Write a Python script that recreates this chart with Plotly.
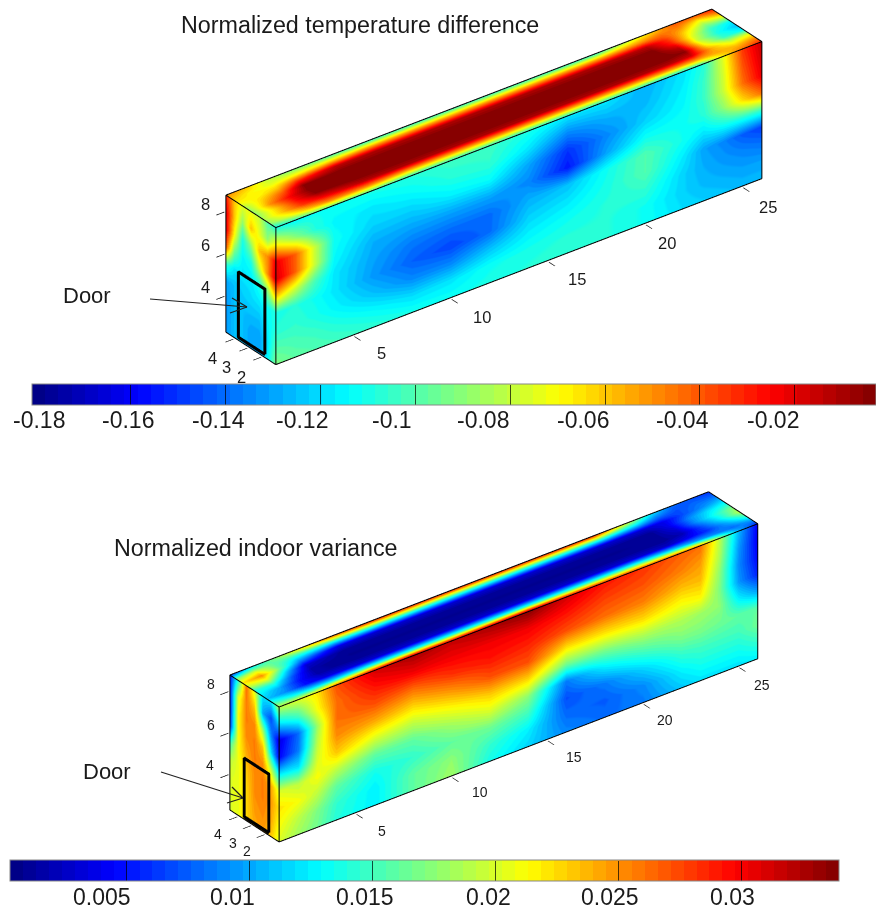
import plotly.graph_objects as go

# ---------- shared axes of the room ----------
x_cols = [1, 2, 3, 4, 6, 8, 10, 12, 14, 16, 18, 20, 22, 23, 24, 25, 26]
z_rows = [8.8, 7.99, 7.18, 6.36, 5.55, 4.74, 3.93, 3.11, 2.3]
y_rows = [1, 1.45, 1.9, 2.35, 2.8, 3.25, 3.7, 4.15, 4.6]
y_end = [1, 1.6, 2.2, 2.8, 3.4, 4.0, 4.6]
x_ticks = [5, 10, 15, 20, 25]
y_ticks = [2, 3, 4]
z_ticks = [4, 6, 8]
tick_labels = ["5", "10", "15", "20", "25", "8", "6", "4", "4", "3", "2"]
pad = 0.05

# ---------- temperature difference ----------
temp_door_y = [1.72, 3.63]
temp_door_z = [2.5, 5.6]
temp_front = [
 [-.110,-.115,-.112,-.112,-.110,-.108,-.104,-.104,-.110,-.118,-.118,-.128,-.118,-.108,-.075,-.035,-.015],
 [-.070,-.090,-.108,-.115,-.118,-.114,-.108,-.106,-.118,-.135,-.128,-.126,-.116,-.105,-.078,-.040,-.018],
 [-.022,-.042,-.080,-.112,-.122,-.122,-.116,-.114,-.130,-.150,-.135,-.122,-.114,-.105,-.080,-.045,-.022],
 [-.018,-.042,-.080,-.114,-.128,-.130,-.130,-.130,-.135,-.155,-.130,-.112,-.112,-.108,-.090,-.065,-.045],
 [-.060,-.080,-.102,-.118,-.130,-.138,-.140,-.140,-.128,-.125,-.112,-.100,-.112,-.118,-.112,-.108,-.105],
 [-.110,-.108,-.112,-.118,-.132,-.142,-.147,-.140,-.122,-.118,-.110,-.100,-.118,-.130,-.135,-.143,-.148],
 [-.108,-.106,-.110,-.115,-.125,-.135,-.135,-.125,-.116,-.112,-.108,-.106,-.122,-.128,-.132,-.135,-.138],
 [-.100,-.102,-.104,-.108,-.114,-.120,-.118,-.112,-.110,-.108,-.108,-.112,-.122,-.126,-.128,-.130,-.130],
 [-.092,-.098,-.100,-.102,-.106,-.110,-.112,-.110,-.108,-.106,-.108,-.112,-.120,-.122,-.124,-.126,-.126],
]
temp_top = [
 [-.112,-.105,-.098,-.098,-.100,-.108,-.108,-.108,-.110,-.110,-.110,-.110,-.115,-.105,-.070,-.045,-.030],
 [-.090,-.075,-.060,-.050,-.050,-.058,-.058,-.058,-.058,-.058,-.058,-.058,-.055,-.055,-.055,-.060,-.050],
 [-.085,-.060,-.035,-.025,-.014,-.012,-.012,-.012,-.012,-.012,-.012,-.012,-.013,-.018,-.055,-.080,-.075],
 [-.090,-.060,-.028,-.006,-.003,-.003,-.003,-.003,-.003,-.003,-.003,-.003,-.003,-.006,-.070,-.105,-.115],
 [-.090,-.050,-.025,-.003,-.003,-.003,-.003,-.003,-.003,-.003,-.003,-.003,-.003,-.015,-.080,-.110,-.125],
 [-.085,-.060,-.040,-.006,-.004,-.004,-.004,-.004,-.004,-.004,-.004,-.004,-.004,-.030,-.075,-.105,-.115],
 [-.070,-.070,-.060,-.035,-.014,-.012,-.012,-.012,-.012,-.012,-.012,-.012,-.014,-.035,-.065,-.090,-.080],
 [-.060,-.070,-.075,-.070,-.060,-.055,-.055,-.055,-.055,-.055,-.055,-.055,-.050,-.045,-.050,-.070,-.050],
 [-.050,-.060,-.080,-.090,-.100,-.105,-.105,-.105,-.105,-.105,-.105,-.105,-.075,-.060,-.040,-.040,-.030],
]
temp_end = [
 [-.110,-.100,-.080,-.075,-.075,-.060,-.030],
 [-.070,-.090,-.075,-.060,-.090,-.060,-.020],
 [-.022,-.050,-.060,-.090,-.110,-.070,-.020],
 [-.018,-.050,-.080,-.110,-.115,-.095,-.040],
 [-.060,-.090,-.110,-.118,-.118,-.118,-.105],
 [-.110,-.112,-.118,-.120,-.122,-.125,-.130],
 [-.108,-.115,-.125,-.125,-.125,-.125,-.132],
 [-.100,-.118,-.130,-.130,-.125,-.125,-.132],
 [-.092,-.115,-.130,-.130,-.125,-.125,-.132],
]
temp_range = [-0.1808, -0.0029]
temp_bar_ticks = [-.16, -.14, -.12, -.10, -.08, -.06, -.04, -.02]
temp_labels = ["-0.18", "-0.16", "-0.14", "-0.12", "-0.1", "-0.08", "-0.06", "-0.04", "-0.02"]
temp_label_px = [39, 128, 218, 302, 392, 483, 583, 682, 773]
temp_tick_px = [(381, 353), (482, 317), (577, 279), (667, 243), (768, 207),
                (205, 204), (205, 245), (205, 287), (212, 358), (226, 367), (241, 377)]

# ---------- indoor variance ----------
var_door_y = [1.68, 3.48]
var_door_z = [2.48, 5.3]
var_front = [
 [.0190,.0200,.0220,.0270,.0310,.0325,.0315,.0325,.0335,.0310,.0290,.0280,.0265,.0260,.0190,.0105,.0040],
 [.0120,.0150,.0210,.0260,.0290,.0300,.0300,.0300,.0300,.0290,.0275,.0270,.0255,.0245,.0185,.0095,.0040],
 [.0035,.0080,.0180,.0260,.0270,.0260,.0280,.0290,.0285,.0270,.0260,.0255,.0235,.0235,.0175,.0090,.0045],
 [.0045,.0085,.0190,.0250,.0240,.0225,.0245,.0270,.0270,.0220,.0220,.0225,.0210,.0215,.0170,.0095,.0055],
 [.0125,.0120,.0200,.0230,.0200,.0190,.0210,.0230,.0225,.0165,.0170,.0185,.0185,.0180,.0175,.0125,.0100],
 [.0200,.0190,.0210,.0190,.0160,.0160,.0180,.0200,.0175,.0085,.0125,.0150,.0170,.0170,.0165,.0160,.0160],
 [.0220,.0210,.0190,.0160,.0135,.0145,.0160,.0165,.0150,.0070,.0085,.0115,.0145,.0150,.0150,.0150,.0165],
 [.0210,.0190,.0170,.0145,.0125,.0160,.0175,.0145,.0125,.0080,.0075,.0090,.0125,.0135,.0135,.0135,.0145],
 [.0200,.0180,.0165,.0140,.0125,.0160,.0180,.0135,.0115,.0090,.0080,.0085,.0110,.0120,.0120,.0120,.0125],
]
var_top = [
 [.0190,.0200,.0220,.0270,.0310,.0325,.0315,.0325,.0335,.0310,.0290,.0280,.0270,.0260,.0190,.0110,.0050],
 [.0150,.0130,.0120,.0120,.0140,.0140,.0140,.0140,.0140,.0140,.0140,.0140,.0120,.0100,.0090,.0080,.0100],
 [.0110,.0090,.0050,.0035,.0030,.0030,.0030,.0030,.0030,.0030,.0030,.0030,.0025,.0040,.0060,.0100,.0150],
 [.0125,.0100,.0050,.0015,.0010,.0010,.0010,.0010,.0010,.0010,.0010,.0010,.0010,.0020,.0070,.0125,.0190],
 [.0140,.0140,.0070,.0015,.0008,.0008,.0008,.0008,.0008,.0008,.0008,.0008,.0010,.0030,.0090,.0135,.0175],
 [.0190,.0200,.0110,.0030,.0010,.0010,.0010,.0010,.0010,.0010,.0010,.0010,.0010,.0040,.0090,.0120,.0140],
 [.0220,.0250,.0160,.0090,.0035,.0030,.0030,.0030,.0030,.0030,.0030,.0030,.0030,.0040,.0070,.0090,.0110],
 [.0170,.0200,.0160,.0140,.0130,.0140,.0140,.0140,.0140,.0140,.0140,.0140,.0110,.0080,.0070,.0080,.0080],
 [.0060,.0120,.0160,.0200,.0260,.0285,.0285,.0285,.0285,.0285,.0285,.0285,.0180,.0120,.0080,.0070,.0060],
]
var_end = [
 [.0190,.0120,.0120,.0200,.0260,.0140,.0050],
 [.0120,.0070,.0100,.0230,.0255,.0200,.0050],
 [.0035,.0090,.0180,.0250,.0255,.0210,.0050],
 [.0045,.0120,.0230,.0255,.0250,.0210,.0060],
 [.0125,.0190,.0250,.0255,.0240,.0210,.0150],
 [.0200,.0240,.0255,.0250,.0230,.0205,.0190],
 [.0220,.0245,.0255,.0250,.0225,.0205,.0200],
 [.0210,.0240,.0250,.0245,.0225,.0205,.0200],
 [.0200,.0230,.0245,.0240,.0225,.0205,.0200],
]
var_range = [0.00029, 0.03394]
var_bar_ticks = [.005, .01, .015, .02, .025, .03]
var_labels = ["0.005", "0.01", "0.015", "0.02", "0.025", "0.03"]
var_label_px = [102, 232, 365, 488, 610, 732]
var_tick_px = [(382, 831), (480, 792), (574, 757), (665, 720), (762, 685),
               (211, 684), (211, 725), (210, 765), (218, 834), (233, 843), (247, 851)]

# ---------- stepped jet ----------
def jet(f):
    c = [min(1, max(0, min(4*f - p, -4*f + p + 3))) for p in (1.5, 0.5, -0.5)]
    return "rgb(%d,%d,%d)" % tuple(round(255*v) for v in c)
N = 64
jet64 = []
for i in range(N):
    col = jet((i + .5)/N)
    jet64 += [[i/N, col], [(i + 1)/N, col]]

W, H = 876, 910
R = (.7934, -.6088, 0)
U = (.3037, .3957, .8667)
D = (-.5276, -.6876, .4988)
S_PX = H/2               # pixels per world unit of an orthographic scene this tall
UNIT = (612.6/S_PX/25, 82.1/S_PX/3.6, 158.1/S_PX/6.5)  # world length of one data unit

def scene_dict(box_center, zoom):
    dx = box_center[0] - W/2
    dy = H/2 - box_center[1]
    c = [-(dx/S_PX)*R[i] - (dy/S_PX)*U[i] for i in range(3)]
    e = [c[i] + 3*D[i] for i in range(3)]
    ax = dict(showgrid=False, zeroline=False, showbackground=False, showspikes=False,
              showline=False, ticks="outside", ticklen=10, tickcolor="#000", tickwidth=1.5,
              showticklabels=False, title=dict(text=""), tickmode="array")
    xr = [x_cols[0] - pad, x_cols[-1] + pad]
    yr = [y_rows[0] - pad, y_rows[-1] + pad]
    zr = [z_rows[-1] - pad, z_rows[0] + pad]
    return dict(
        domain=dict(x=[0, 1], y=[0, 1]),
        aspectmode="manual",
        aspectratio=dict(x=UNIT[0]*(xr[1]-xr[0])*zoom, y=UNIT[1]*(yr[1]-yr[0])*zoom, z=UNIT[2]*(zr[1]-zr[0])*zoom),
        camera=dict(projection=dict(type="orthographic"),
                    eye=dict(x=e[0], y=e[1], z=e[2]),
                    center=dict(x=c[0], y=c[1], z=c[2]),
                    up=dict(x=0, y=0, z=1)),
        xaxis=dict(ax, range=xr, tickvals=x_ticks),
        yaxis=dict(ax, range=yr, tickvals=y_ticks),
        zaxis=dict(ax, range=zr, tickvals=z_ticks),
        bgcolor="rgba(0,0,0,0)",
    )

def box_traces(scene, front, top, end, rng, bar_ticks, bar_left, bar_len, bar_top, door_y, door_z):
    common = dict(scene=scene, colorscale=jet64, cmin=rng[0], cmax=rng[1], hoverinfo="skip",
                  lighting=dict(ambient=1, diffuse=0, specular=0, roughness=.5, fresnel=.2),
                  contours=dict(x=dict(show=False, highlight=False), y=dict(show=False, highlight=False),
                                z=dict(show=False, highlight=False)))
    y0, y1 = y_rows[0], y_rows[-1]
    x0, x1 = x_cols[0], x_cols[-1]
    zb, zt = z_rows[-1], z_rows[0]
    t = []
    t.append(go.Surface(x=[x_cols for _ in z_rows], y=[[y0]*len(x_cols) for _ in z_rows],
                        z=[[v]*len(x_cols) for v in z_rows], surfacecolor=front, showscale=True,
                        colorbar=dict(orientation="h", lenmode="pixels", len=bar_len, thickness=21,
                                      x=(bar_left + bar_len/2)/W, xanchor="center",
                                      y=1 - bar_top/H, yanchor="top", xpad=0, ypad=0,
                                      tickmode="array", tickvals=bar_ticks, showticklabels=False,
                                      ticks="inside", ticklen=20, tickcolor="rgba(0,0,0,.7)", tickwidth=1,
                                      outlinecolor="#888", outlinewidth=1, borderwidth=0),
                        **common))
    t.append(go.Surface(x=[x_cols for _ in y_rows], y=[[v]*len(x_cols) for v in y_rows],
                        z=[[zt]*len(x_cols) for _ in y_rows], surfacecolor=top, showscale=False, **common))
    t.append(go.Surface(x=[[x0]*len(y_end) for _ in z_rows], y=[y_end for _ in z_rows],
                        z=[[v]*len(y_end) for v in z_rows], surfacecolor=end, showscale=False, **common))
    e = pad*.6
    ex = [x0, x1, None, x0, x1, None, x0, x1, None, x0, x0, None, x0, x0, None, x0, x0, None, x0, x0, None, x1, x1, None, x1, x1]
    ey = [y0, y0, None, y0, y0, None, y1, y1, None, y0, y1, None, y0, y1, None, y0, y0, None, y1, y1, None, y0, y0, None, y0, y1]
    ez = [zt, zt, None, zb, zb, None, zt, zt, None, zt, zt, None, zb, zb, None, zb, zt, None, zb, zt, None, zb, zt, None, zt, zt]
    t.append(go.Scatter3d(scene=scene, x=[v if v is None else v - e for v in ex],
                          y=[v if v is None else v - e for v in ey],
                          z=[v if v is None else v + e for v in ez], mode="lines", hoverinfo="skip", showlegend=False,
                          line=dict(color="#000", width=2)))
    a, b = door_y
    c, d = door_z
    t.append(go.Scatter3d(scene=scene, x=[x0 - e]*5, y=[a, b, b, a, a], z=[c, c, d, d, c], mode="lines",
                          hoverinfo="skip", showlegend=False, line=dict(color="#000", width=8)))
    return t

fig = go.Figure()
for tr in box_traces("scene", temp_front, temp_top, temp_end, temp_range, temp_bar_ticks, 32, 844, 384, temp_door_y, temp_door_z):
    fig.add_trace(tr)
for tr in box_traces("scene2", var_front, var_top, var_end, var_range, var_bar_ticks, 10, 829, 860, var_door_y, var_door_z):
    fig.add_trace(tr)

def label(text, px, py, size=23):
    return dict(text=text, x=px/W, y=1 - py/H, xref="paper", yref="paper", showarrow=False,
                font=dict(family="Liberation Sans, Arial", size=size, color="#1a1a1a"),
                xanchor="center", yanchor="middle")

def seg(x0, y0, x1, y1, width=1.2):
    return dict(type="line", xref="paper", yref="paper", x0=x0/W, y0=1 - y0/H, x1=x1/W, y1=1 - y1/H,
                line=dict(color="#222", width=width))

anns = [label("Normalized temperature difference", 360, 25, 23.3),
        label("Normalized indoor variance", 256, 548, 23.3),
        label("Door", 87, 296, 22), label("Door", 107, 771, 22)]
anns += [label(s, p, 420) for s, p in zip(temp_labels, temp_label_px)]
anns += [label(s, p, 897) for s, p in zip(var_labels, var_label_px)]
anns += [label(s, *p, 16.5) for s, p in zip(tick_labels, temp_tick_px)]
anns += [label(s, *p, 14) for s, p in zip(tick_labels, var_tick_px)]

door_arrows = [seg(150, 299, 247, 307), seg(232, 298, 247, 307), seg(230, 313, 247, 307),
               seg(161, 772, 243, 798), seg(232, 787, 243, 798), seg(227, 803, 243, 798)]

fig.update_layout(
    width=W, height=H, margin=dict(l=0, r=0, t=0, b=0), paper_bgcolor="white", showlegend=False,
    annotations=anns, shapes=door_arrows,
    scene=scene_dict((494, 187), 1),
    scene2=scene_dict((494, 667), .985),
)
fig.write_html("out.html", config=dict(displayModeBar=False),
               post_script="document.body.style.margin='0';document.body.style.overflow='hidden';")
